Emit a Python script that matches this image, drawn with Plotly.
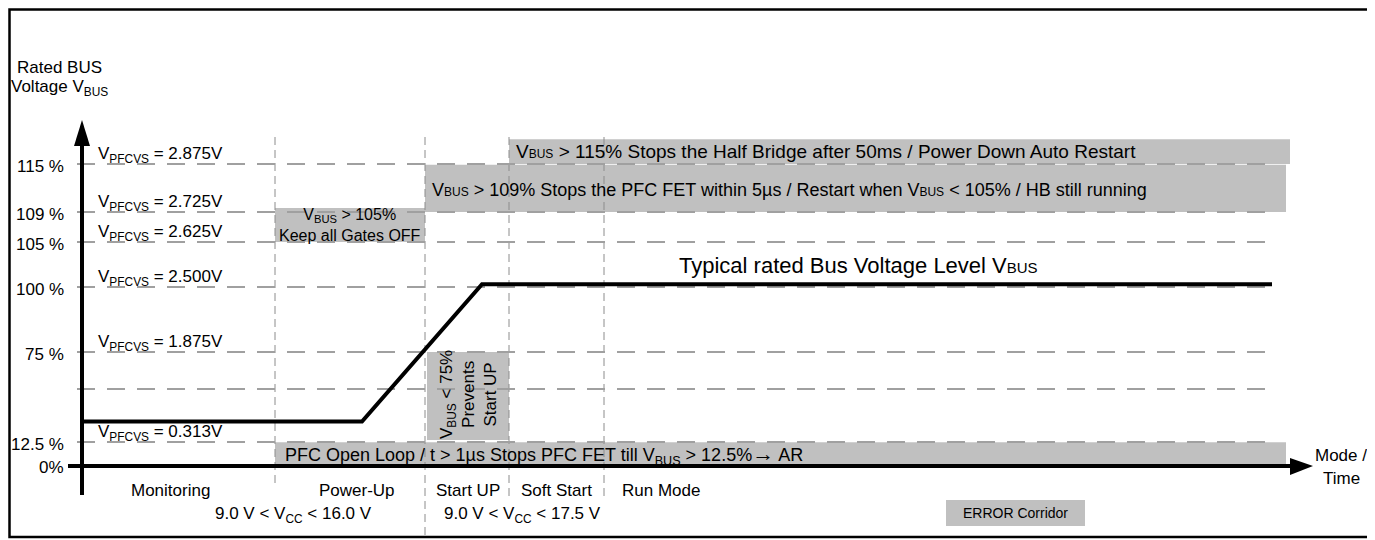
import plotly.graph_objects as go

FONT = "Liberation Sans, Arial, sans-serif"
BOX = "#c0c0c0"
DASH_H = "#a0a0a0"
DASH_V = "#8c8c8c"

# --- levels on the rated bus voltage axis (percent) ---
level_pct = [115, 109, 105, 100, 75, 50, 12.5]
level_lbl = ["115 %", "109 %", "105 %", "100 %", "75 %", "", "12.5 %"]
pfcvs_volt = ["2.875V", "2.725V", "2.625V", "2.500V", "1.875V", "", "0.313V"]

# --- mode / time axis ---
phase_names = ["Monitoring", "Power-Up", "Start UP", "Soft Start", "Run Mode"]
phase_start = [0, 193, 343, 427, 522]
phase_label_t = [88, 275, 386, 474, 579]
vcc_lo = ["9.0", "9.0"]
vcc_hi = ["16.0", "17.5"]
vcc_label_t = [211, 440]

# --- typical bus voltage trace ---
curve_t = [0, 280, 400, 1190]
curve_pct = [27, 27, 100.3, 100.3]

# --- error corridors: start, end, low %, high % ---
err_t0 = [427, 343, 193, 345, 193]
err_t1 = [1208, 1204, 343, 427, 1204]
err_lo = [115, 109, 105, 13.9, 0.6]
err_hi = [118.1, 114.9, 109.5, 75, 12.4]

# percent -> row on the (non linear) schematic axis
anchor_pct = [0, 12.5, 50, 75, 100, 105, 109, 115, 120]
anchor_row = [466, 442, 389, 352, 287, 242, 212, 164, 124]


def row(p):
    for i in range(len(anchor_pct) - 1):
        a, b = anchor_pct[i], anchor_pct[i + 1]
        if a <= p <= b:
            return anchor_row[i] + (p - a) / (b - a) * (anchor_row[i + 1] - anchor_row[i])
    return anchor_row[-1]


def txt(x, y, s, size=17, xa="center", ya="middle", angle=0, align="center"):
    return dict(x=x, y=y, xref="x", yref="y", text=s, showarrow=False,
                xanchor=xa, yanchor=ya, textangle=angle, align=align,
                font=dict(family=FONT, size=size, color="black"))


shapes = []
ann = []

# border (paper coords so it is not clipped by the plot area)
shapes.append(dict(type="rect", xref="paper", yref="paper",
                   x0=1.5 / 1375, x1=1361 / 1375, y0=11 / 540, y1=1 - 1.5 / 540,
                   line=dict(color="black", width=2.5), layer="below"))

# error corridors
for t0, t1, lo, hi in zip(err_t0, err_t1, err_lo, err_hi):
    shapes.append(dict(type="rect", x0=t0, x1=t1, y0=row(lo), y1=row(hi),
                       fillcolor=BOX, line=dict(width=0), layer="below"))

# legend box
shapes.append(dict(type="rect", x0=864, x1=1003, y0=500, y1=526,
                   fillcolor=BOX, line=dict(width=0), layer="below"))
ann.append(txt(933, 513, "ERROR Corridor", size=14))

# phase separators
phase_bottom = [485, 536, 500, 500]
for t, yb in zip(phase_start[1:], phase_bottom):
    shapes.append(dict(type="line", x0=t, x1=t, y0=137, y1=yb,
                       line=dict(color=DASH_V, width=1, dash="8px,5px"), layer="below"))

# level lines
for p in level_pct:
    shapes.append(dict(type="line", x0=-5, x1=1192, y0=row(p), y1=row(p),
                       line=dict(color=DASH_H, width=2, dash="18px,12px"), layer="below"))

# axes with arrows
shapes.append(dict(type="line", x0=0, x1=0, y0=146, y1=495,
                   line=dict(color="black", width=4), layer="below"))
shapes.append(dict(type="path", path="M -8 146 L 0 120 L 8 146 Z",
                   fillcolor="black", line=dict(width=0), layer="below"))
shapes.append(dict(type="line", x0=-14, x1=1210, y0=row(0), y1=row(0),
                   line=dict(color="black", width=4), layer="below"))
shapes.append(dict(type="path",
                   path=f"M 1208 {row(0)-8} L 1231 {row(0)} L 1208 {row(0)+9} Z",
                   fillcolor="black", line=dict(width=0), layer="below"))

# axis labels
ann.append(txt(-23, 67, "Rated BUS", size=17))
ann.append(txt(-23, 88, "Voltage V<sub>BUS</sub>", size=17))
ann.append(txt(-16, row(0) + 1, "0%", size=17, xa="right"))
ann.append(txt(1259, 455, "Mode /", size=17))
ann.append(txt(1259, 478, "Time", size=17))

for p, lab, v in zip(level_pct, level_lbl, pfcvs_volt):
    if lab:
        ann.append(txt(-16, row(p) + 2, lab, size=17, xa="right"))
    if v:
        ann.append(txt(14, row(p) - 9, f"V<sub>PFCVS</sub> = {v}", size=17, xa="left"))

# corridor texts
small = '<span style="font-size:12px">BUS</span>'
ann.append(txt(432, 151, f"V{small} &gt; 115% Stops the Half Bridge after 50ms / Power Down Auto Restart",
               size=19, xa="left"))
ann.append(txt(348, 190, f"V{small} &gt; 109% Stops the PFC FET within 5\u00b5s / Restart when V{small} &lt; 105% / HB still running",
               size=18, xa="left"))
ann.append(txt(268, 225, "V<sub>BUS</sub> &gt; 105%<br>Keep all Gates OFF", size=16))
ann.append(txt(386, 395, "V<sub>BUS</sub> &lt; 75%<br>Prevents<br>Start UP", size=17, angle=-90))
ann.append(txt(201, 454, "PFC Open Loop / t &gt; 1\u00b5s Stops PFC FET till V<sub>BUS</sub> &gt; 12.5%"
               "<span style=\"font-size:22px\">\u2192</span> AR",
               size=18, xa="left"))
ann.append(txt(595, 265, "Typical rated Bus Voltage Level V<span style=\"font-size:15px\">BUS</span>",
               size=22, xa="left"))

# phase labels
for name, t in zip(phase_names, phase_label_t):
    ann.append(txt(t, 490, name, size=17))
for lo, hi, t in zip(vcc_lo, vcc_hi, vcc_label_t):
    ann.append(txt(t, 515, f"{lo} V &lt; V<sub>CC</sub> &lt; {hi} V", size=17))

fig = go.Figure()
fig.add_trace(go.Scatter(x=curve_t, y=[row(p) for p in curve_pct], mode="lines",
                         line=dict(color="black", width=4), hoverinfo="skip"))

# the page body adds an 8px offset, so the axis ranges are shifted to compensate
fig.update_layout(
    width=1375, height=540,
    margin=dict(l=0, r=0, t=0, b=0),
    paper_bgcolor="white", plot_bgcolor="white",
    showlegend=False,
    shapes=shapes, annotations=ann,
    xaxis=dict(range=[-74, 1301], visible=False, fixedrange=True),
    yaxis=dict(range=[548, 8], visible=False, fixedrange=True),
)

fig.write_html("out.html")
